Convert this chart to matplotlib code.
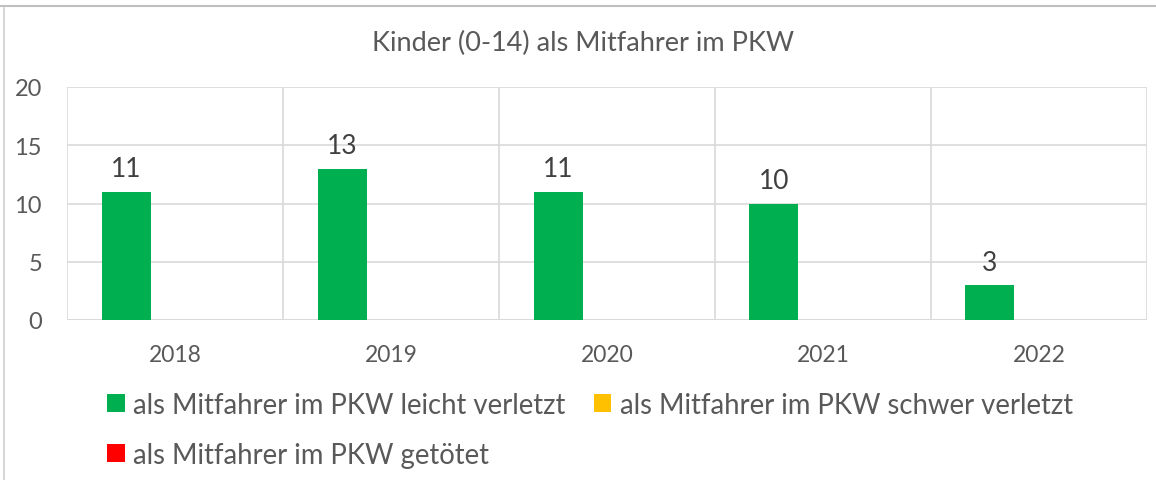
import numpy as np
import matplotlib.pyplot as plt
from matplotlib.lines import Line2D
from matplotlib.patches import Patch

plt.rcParams['font.family'] = ['Lato', 'DejaVu Sans']

years = ['2018', '2019', '2020', '2021', '2022']
leicht = [11, 13, 11, 10, 3]
schwer = [0, 0, 0, 0, 0]
getoetet = [0, 0, 0, 0, 0]

series_names = ['als Mitfahrer im PKW leicht verletzt',
                'als Mitfahrer im PKW schwer verletzt',
                'als Mitfahrer im PKW getötet']
colors = ['#00B050', '#FFC000', '#FF0000']
grid_col = '#D9D9D9'
text_col = '#595959'

W, H = 1156, 481
fig = plt.figure(figsize=(W / 100, H / 100), dpi=100)
ax = fig.add_axes([67 / W, 1 - 321 / H, (1147 - 67) / W, (321 - 88) / H])

x = np.arange(len(years))
bw = 49 / 216
for i, (vals, col) in enumerate(zip([leicht, schwer, getoetet], colors)):
    pos = x + (i - 1) * bw
    ax.bar(pos, vals, width=bw, color=col, zorder=3)
    if i == 0:
        for p, v in zip(pos, vals):
            ax.text(p, v + 0.9, str(v), ha='center', va='bottom',
                    fontsize=19, color='#404040', zorder=4)

ax.set_xlim(-0.5, len(years) - 0.5)
ax.set_ylim(0, 20)
ax.set_yticks([0, 5, 10, 15, 20])
ax.set_xticks(x)
ax.set_xticklabels(years)
ax.tick_params(axis='both', length=0, colors=text_col)
ax.tick_params(axis='y', pad=18, labelsize=17)
ax.tick_params(axis='x', pad=17, labelsize=16.5)

# horizontal gridlines and category separators
ax.yaxis.grid(True, color=grid_col, linewidth=1.2, zorder=0)
for b in np.arange(-0.5, len(years), 1):
    ax.axvline(b, color=grid_col, linewidth=1.2, zorder=0)
for s in ax.spines.values():
    s.set_visible(False)
ax.axhline(0, color=grid_col, linewidth=2, zorder=2)

fig.text(583 / W, 1 - 43 / H, 'Kinder (0-14) als Mitfahrer im PKW',
         ha='center', va='center', fontsize=19.5, color=text_col)

handles = [Patch(facecolor=c, edgecolor='none') for c in colors]
order = [0, 2, 1]
fig.legend([handles[k] for k in order], [series_names[k] for k in order],
           ncol=2, loc='center', bbox_to_anchor=(590 / W, 1 - 431 / H),
           frameon=False, fontsize=19.8, labelcolor=text_col,
           handlelength=0.63, handleheight=0.63, handletextpad=0.3,
           columnspacing=1.05, labelspacing=0.88, borderpad=0)

# chart area outline
fig.add_artist(Line2D([0, 1], [1 - 7 / H, 1 - 7 / H], color='#BFBFBF', linewidth=1.5))
fig.add_artist(Line2D([4 / W, 4 / W], [0, 1 - 9 / H], color='#D0D0D0', linewidth=1.2))

fig.savefig('out.png', dpi=100)
